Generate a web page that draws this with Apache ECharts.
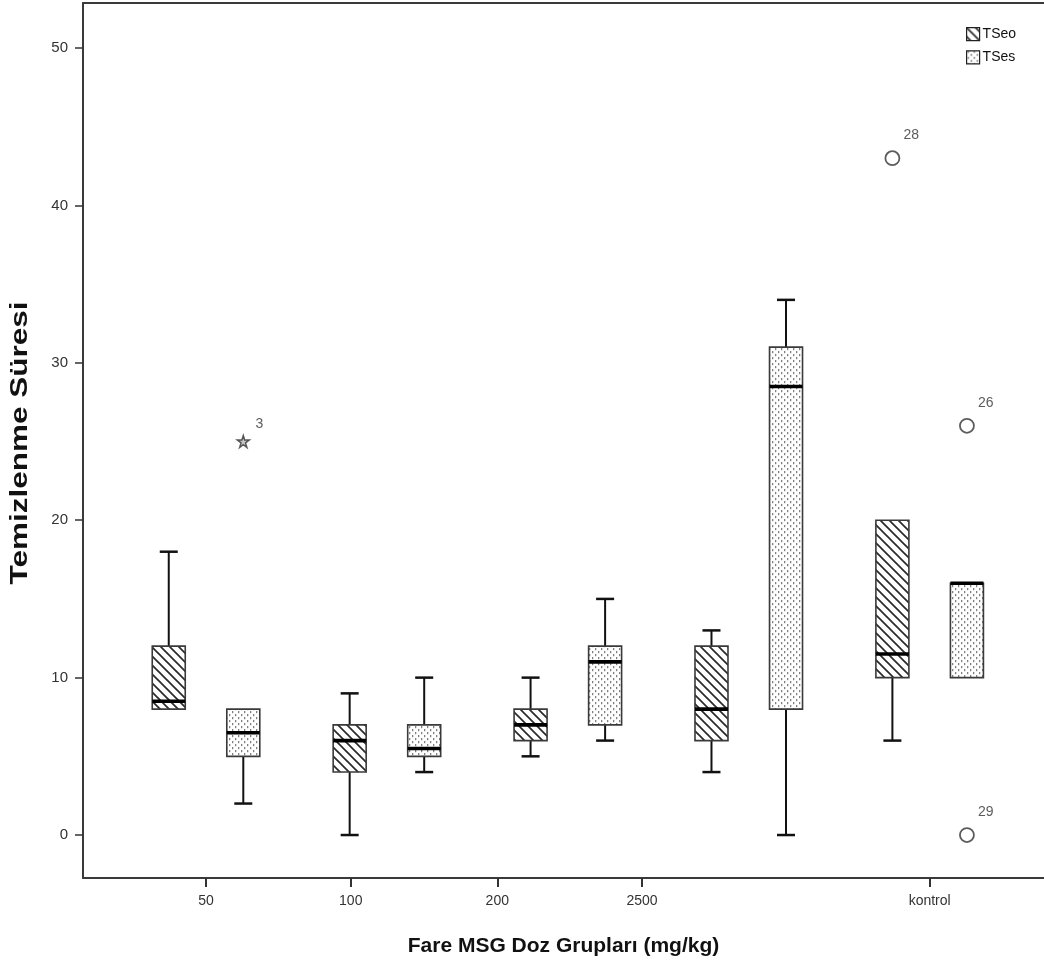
<!DOCTYPE html>
<html>
<head>
<meta charset="utf-8">
<script src="https://cdn.jsdelivr.net/npm/echarts@6/dist/echarts.min.js"></script>
<style>
html,body{margin:0;padding:0;background:#fff;}
#chart{width:1044px;height:977px;}
</style>
</head>
<body>
<div id="chart"></div>
<script>
// ---------- data ----------
const categories = ['50', '100', '200', '2500', 'kontrol'];
// [min, q1, median, q3, max] per category
const tseoBoxes = [
  [8, 8, 8.5, 12, 18],
  [0, 4, 6, 7, 9],
  [5, 6, 7, 8, 10],
  [4, 6, 8, 12, 13],
  [6, 10, 11.5, 20, 20]
];
const tsesBoxes = [
  [2, 5, 6.5, 8, 8],
  [4, 5, 5.5, 7, 10],
  [6, 7, 11, 12, 15],
  [0, 8, 28.5, 31, 34],
  [10, 10, 16, 16, 16]
];
// outliers: series, category index, value, case label, extreme (star)
const outlierSeries = ['TSes', 'TSeo', 'TSes', 'TSes'];
const outlierCat = [0, 4, 4, 4];
const outlierValue = [25, 43, 26, 0];
const outlierLabel = ['3', '28', '26', '29'];
const outlierExtreme = [true, false, false, false];
const yTicks = [0, 10, 20, 30, 40, 50];

// ---------- layout ----------
const tickPos = [0, 0.8, 1.61, 2.41, 4];   // x-axis label positions (axis units)
const BOX_OFFSET = 0.206;                  // TSeo left / TSes right of group centre
const X_MIN = -0.68, X_MAX = 4.632;
const Y_MIN = -2.73, Y_MAX = 52.86;
const FONT = '"Liberation Sans", Arial, Helvetica, sans-serif';

// ---------- patterns ----------
function hatchCanvas() {
  const s = 9, c = document.createElement('canvas');
  c.width = s; c.height = s;
  const g = c.getContext('2d');
  g.fillStyle = '#fff'; g.fillRect(0, 0, s, s);
  g.strokeStyle = '#2a2a2a'; g.lineWidth = 1.7;
  for (const d of [-s, 0, s]) {
    g.beginPath(); g.moveTo(d - 1, -1); g.lineTo(d + s + 1, s + 1); g.stroke();
  }
  return c;
}
function dotCanvas() {
  const c = document.createElement('canvas');
  c.width = 6; c.height = 6;
  const g = c.getContext('2d');
  g.fillStyle = '#fff'; g.fillRect(0, 0, 6, 6);
  g.fillStyle = '#808080';
  g.fillRect(1, 0, 1.3, 2.2);
  g.fillRect(4, 3, 1.3, 2.2);
  return c;
}
const hatchPattern = { image: hatchCanvas(), repeat: 'repeat' };
const dotPattern = { image: dotCanvas(), repeat: 'repeat' };

function makeRender(offset, pattern) {
  return function (params, api) {
    const x = api.value(0) + offset;
    const cx = api.coord([x, 0])[0];
    const yMin = api.coord([x, api.value(1)])[1];
    const yQ1 = api.coord([x, api.value(2)])[1];
    const yMed = api.coord([x, api.value(3)])[1];
    const yQ3 = api.coord([x, api.value(4)])[1];
    const yMax = api.coord([x, api.value(5)])[1];
    const hw = 16.5, cap = 9;
    const wStyle = { stroke: '#111', lineWidth: 2 };
    const children = [];
    if (api.value(5) > api.value(4)) {
      children.push({ type: 'line', shape: { x1: cx, y1: yMax, x2: cx, y2: yQ3 }, style: wStyle });
      children.push({ type: 'line', shape: { x1: cx - cap, y1: yMax, x2: cx + cap, y2: yMax }, style: { stroke: '#111', lineWidth: 2.5 } });
    }
    if (api.value(1) < api.value(2)) {
      children.push({ type: 'line', shape: { x1: cx, y1: yQ1, x2: cx, y2: yMin }, style: wStyle });
      children.push({ type: 'line', shape: { x1: cx - cap, y1: yMin, x2: cx + cap, y2: yMin }, style: { stroke: '#111', lineWidth: 2.5 } });
    }
    children.push({
      type: 'rect',
      shape: { x: cx - hw, y: yQ3, width: hw * 2, height: yQ1 - yQ3 },
      style: { fill: pattern, stroke: '#3a3a3a', lineWidth: 1.6 }
    });
    children.push({
      type: 'line',
      shape: { x1: cx - hw, y1: yMed, x2: cx + hw, y2: yMed },
      style: { stroke: '#000', lineWidth: 3.6 }
    });
    return { type: 'group', children: children };
  };
}

const tseoData = tseoBoxes.map((b, i) => [i].concat(b));
const tsesData = tsesBoxes.map((b, i) => [i].concat(b));

const starPath = 'path://M50,2 L61,37 L98,37 L68,59 L79,95 L50,73 L21,95 L32,59 L2,37 L39,37 Z';
const outlierData = outlierValue.map((v, k) => ({
  value: [outlierCat[k] + (outlierSeries[k] === 'TSeo' ? -BOX_OFFSET : BOX_OFFSET), v],
  name: outlierLabel[k],
  symbol: outlierExtreme[k] ? starPath : 'circle',
  symbolSize: outlierExtreme[k] ? 12 : 14,
  itemStyle: outlierExtreme[k]
    ? { color: '#bbb', borderColor: '#333', borderWidth: 1.5 }
    : { color: 'rgba(255,255,255,0)', borderColor: '#333', borderWidth: 1.8 },
  label: outlierExtreme[k] ? { position: [19, -18] } : { position: [19, -22] }
}));

// measure y title to stretch like the original
const yTitle = 'Temizlenme Süresi';
const mctx = document.createElement('canvas').getContext('2d');
mctx.font = 'bold 23px ' + FONT;
const yTitleScale = 283 / mctx.measureText(yTitle).width;

const chart = echarts.init(document.getElementById('chart'), null, { renderer: 'canvas' });
chart.setOption({
  animation: false,
  backgroundColor: '#fff',
  grid: { left: 83, right: 0, top: 3, bottom: 99, containLabel: false },
  legend: {
    left: 961, top: 22, orient: 'vertical', itemWidth: 13, itemHeight: 13, itemGap: 9,
    selectedMode: false, icon: 'rect',
    textStyle: { fontFamily: FONT, fontSize: 14, color: '#111', padding: [0, 0, 0, -2] },
    data: [
      { name: 'TSeo', itemStyle: { color: hatchPattern, borderColor: '#222', borderWidth: 1.2 } },
      { name: 'TSes', itemStyle: { color: dotPattern, borderColor: '#222', borderWidth: 1.2 } }
    ]
  },
  xAxis: [{
    type: 'value', min: X_MIN, max: X_MAX, position: 'bottom',
    axisLine: { show: true, onZero: false, lineStyle: { color: '#3a3a3a', width: 2 } },
    axisTick: { show: true, length: 9, customValues: tickPos, lineStyle: { color: '#333', width: 2 } },
    axisLabel: {
      customValues: tickPos, margin: 16, fontFamily: FONT, fontSize: 14, color: '#333',
      formatter: function (v) {
        let best = 0;
        tickPos.forEach((t, i) => { if (Math.abs(t - v) < Math.abs(tickPos[best] - v)) best = i; });
        return categories[best];
      }
    },
    splitLine: { show: false },
    name: 'Fare MSG Doz Grupları (mg/kg)', nameLocation: 'middle', nameGap: 58,
    nameTextStyle: { fontFamily: FONT, fontSize: 21, fontWeight: 'bold', color: '#111' }
  }, {
    type: 'value', min: X_MIN, max: X_MAX, position: 'top',
    axisLine: { show: true, onZero: false, lineStyle: { color: '#3a3a3a', width: 2 } },
    axisTick: { show: false }, axisLabel: { show: false }, splitLine: { show: false }
  }],
  yAxis: {
    type: 'value', min: Y_MIN, max: Y_MAX, position: 'left',
    axisLine: { show: true, onZero: false, lineStyle: { color: '#3a3a3a', width: 2 } },
    axisTick: { show: true, length: 8, customValues: yTicks, lineStyle: { color: '#333', width: 1.5 } },
    axisLabel: { customValues: yTicks, margin: 15, fontFamily: FONT, fontSize: 15, color: '#333' },
    splitLine: { show: false }
  },
  graphic: [{
    type: 'text', x: 21, y: 443, rotation: Math.PI / 2, scaleX: yTitleScale,
    style: { text: yTitle, font: 'bold 23px ' + FONT, fill: '#111', textAlign: 'center', textVerticalAlign: 'middle' }
  }],
  series: [
    { name: 'TSeo', type: 'custom', renderItem: makeRender(-BOX_OFFSET, hatchPattern), data: tseoData,
      encode: { x: 0, y: [1, 2, 3, 4, 5] }, itemStyle: { color: hatchPattern }, z: 2 },
    { name: 'TSes', type: 'custom', renderItem: makeRender(BOX_OFFSET, dotPattern), data: tsesData,
      encode: { x: 0, y: [1, 2, 3, 4, 5] }, itemStyle: { color: dotPattern }, z: 2 },
    { name: 'outliers', type: 'scatter', data: outlierData, z: 3,
      label: { show: true, formatter: '{b}', fontFamily: FONT, fontSize: 14, color: '#333' } }
  ]
});
</script>
</body>
</html>
